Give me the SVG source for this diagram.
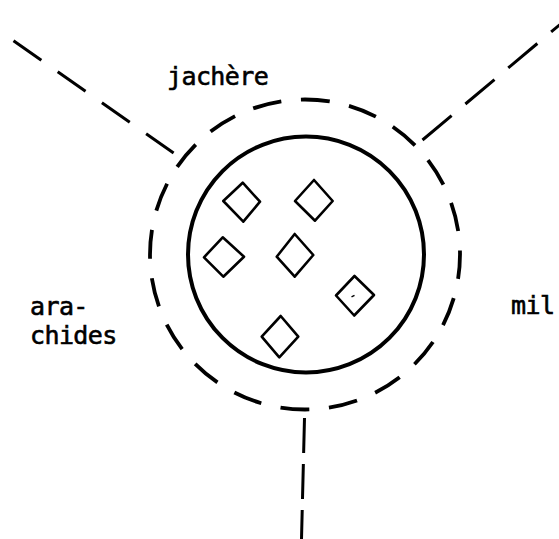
<svg xmlns="http://www.w3.org/2000/svg" width="559" height="539" viewBox="0 0 559 539">
<style>
.lbl{font-family:"DejaVu Sans Mono","Liberation Mono",monospace;font-size:25px;letter-spacing:-0.6px;fill:#000;stroke:#000;stroke-width:0.6}
.dia{fill:none;stroke:#000;stroke-width:2.6;stroke-linejoin:round}
.conn{fill:none;stroke:#000;stroke-width:3}
</style>
<rect width="559" height="539" fill="#fff"/>
<g id="connectors">
<path class="conn" d="M13.5,40.7 L173.6,153" stroke-dasharray="34 20"/>
<path class="conn" d="M422.5,140 L565,20.3" stroke-dasharray="38 18"/>
<path class="conn" d="M304.5,418 L301.5,539" stroke-dasharray="35 11"/>
</g>
<g id="outer-ring">
<circle cx="305" cy="254.5" r="155" fill="none" stroke="#000" stroke-width="3.8" stroke-dasharray="29 19.7" stroke-dashoffset="4.5"/>
</g>
<g id="inner-circle">
<circle cx="306" cy="254.5" r="118" fill="none" stroke="#000" stroke-width="4"/>
</g>
<g id="d1"><polygon class="dia" points="242.7,182.7 260,201.7 243.3,221.7 223.3,201"/></g>
<g id="d2"><polygon class="dia" points="314,180 332.7,201 315,220.7 295,201"/></g>
<g id="d3"><polygon class="dia" points="222.7,237.3 244,256.7 223.3,276.7 204,257.3"/></g>
<g id="d4"><polygon class="dia" points="294.7,234 313.3,255 294.7,276.7 276.7,256.7"/></g>
<g id="d5"><polygon class="dia" points="354.5,276 374,295 354.2,315.5 336,295.5"/><path d="M351.5,296.8 L354.5,295.3" stroke="#000" stroke-width="1.5" fill="none"/></g>
<g id="d6"><polygon class="dia" points="280.7,316 298.3,336.7 279.3,357.3 261.7,336.7"/></g>
<g id="label-jachere"><text class="lbl" x="167" y="85">jachère</text></g>
<g id="label-arachides"><text class="lbl" x="30" y="315">ara-</text><text class="lbl" x="30" y="344">chides</text></g>
<g id="label-mil"><text class="lbl" x="511" y="314">mil</text></g>
</svg>
